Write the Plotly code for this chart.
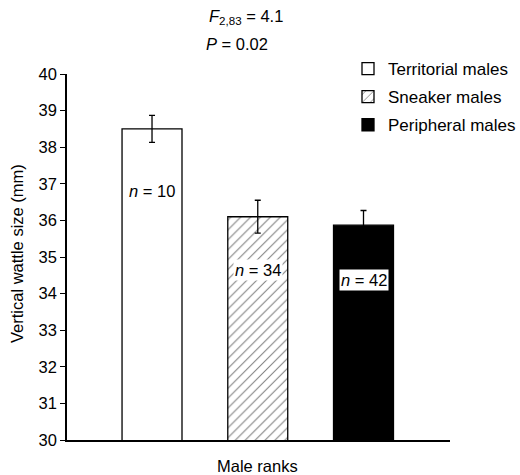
import plotly.graph_objects as go

categories = ["Territorial males", "Sneaker males", "Peripheral males"]
means = [38.5, 36.1, 35.87]
errors = [0.37, 0.45, 0.40]
n_values = [10, 34, 42]
label_y = [36.8, 34.64, 34.38]
y_ticks = [30, 31, 32, 33, 34, 35, 36, 37, 38, 39, 40]

FONT = "Liberation Sans, Arial, Helvetica, sans-serif"
FS = 16.5

styles = [
    dict(color="white", pattern=None, label_bg=None),
    dict(color="white", pattern=dict(shape="/", size=7, solidity=0.15, fgcolor="black", bgcolor="white"), label_bg="white"),
    dict(color="black", pattern=None, label_bg="white"),
]

fig = go.Figure()
for i, cat in enumerate(categories):
    marker = dict(color=styles[i]["color"], line=dict(color="black", width=1.3))
    if styles[i]["pattern"]:
        marker["pattern"] = styles[i]["pattern"]
    fig.add_trace(go.Bar(
        x=[cat], y=[means[i]], name=cat, width=0.567,
        marker=marker, legendgroup=cat,
        error_y=dict(type="data", array=[errors[i]], color="black", thickness=1.3, width=3),
    ))
    fig.add_annotation(
        x=cat, y=label_y[i], xref="x", yref="y",
        text=f"<i>n</i> = {n_values[i]}", showarrow=False,
        font=dict(family=FONT, size=FS, color="black"),
        bgcolor=styles[i]["label_bg"] or "rgba(0,0,0,0)", borderpad=1,
    )

fig.add_annotation(xref="paper", yref="paper", x=(246 - 67) / 383, y=1 + (74 - 17) / 366,
                   text="<i>F</i><sub>2,83</sub> = 4.1", showarrow=False,
                   font=dict(family=FONT, size=FS, color="black"), xanchor="center", yanchor="middle")
fig.add_annotation(xref="paper", yref="paper", x=(237 - 67) / 383, y=1 + (74 - 44) / 366,
                   text="<i>P</i> = 0.02", showarrow=False,
                   font=dict(family=FONT, size=FS, color="black"), xanchor="center", yanchor="middle")
fig.add_annotation(xref="paper", yref="paper", x=(17 - 67) / 383, y=(440 - 254) / 366,
                   text="Vertical wattle size (mm)", textangle=-90, showarrow=False,
                   font=dict(family=FONT, size=FS, color="black"), xanchor="center", yanchor="middle")
fig.add_annotation(xref="paper", yref="paper", x=(257 - 67) / 383, y=-(466 - 440) / 366,
                   text="Male ranks", showarrow=False,
                   font=dict(family=FONT, size=FS, color="black"), xanchor="center", yanchor="middle")

fig.update_layout(
    width=520, height=475,
    margin=dict(l=67, r=70, t=74, b=35, autoexpand=False),
    paper_bgcolor="white", plot_bgcolor="white",
    barmode="overlay",
    font=dict(family=FONT, size=FS, color="black"),
    showlegend=True,
    legend=dict(xref="container", yref="container", x=348 / 520, y=1 - 51 / 475,
                xanchor="left", yanchor="top", tracegroupgap=3,
                font=dict(family=FONT, size=17, color="black"), bgcolor="rgba(0,0,0,0)"),
    xaxis=dict(type="category", range=[-0.804, 2.818], showline=True, linecolor="black", linewidth=1.5,
               showticklabels=False, ticks="", showgrid=False, zeroline=False, fixedrange=True),
    yaxis=dict(range=[30, 40], tickvals=y_ticks, showline=True, linecolor="black", linewidth=1.5,
               ticks="outside", ticklen=5, tickwidth=1.3, tickcolor="black", showgrid=False,
               zeroline=False, tickfont=dict(family=FONT, size=FS, color="black")),
)

fig.write_html("out.html", config={"displayModeBar": False},
               post_script="document.body.style.margin='0';document.body.style.padding='0';")
